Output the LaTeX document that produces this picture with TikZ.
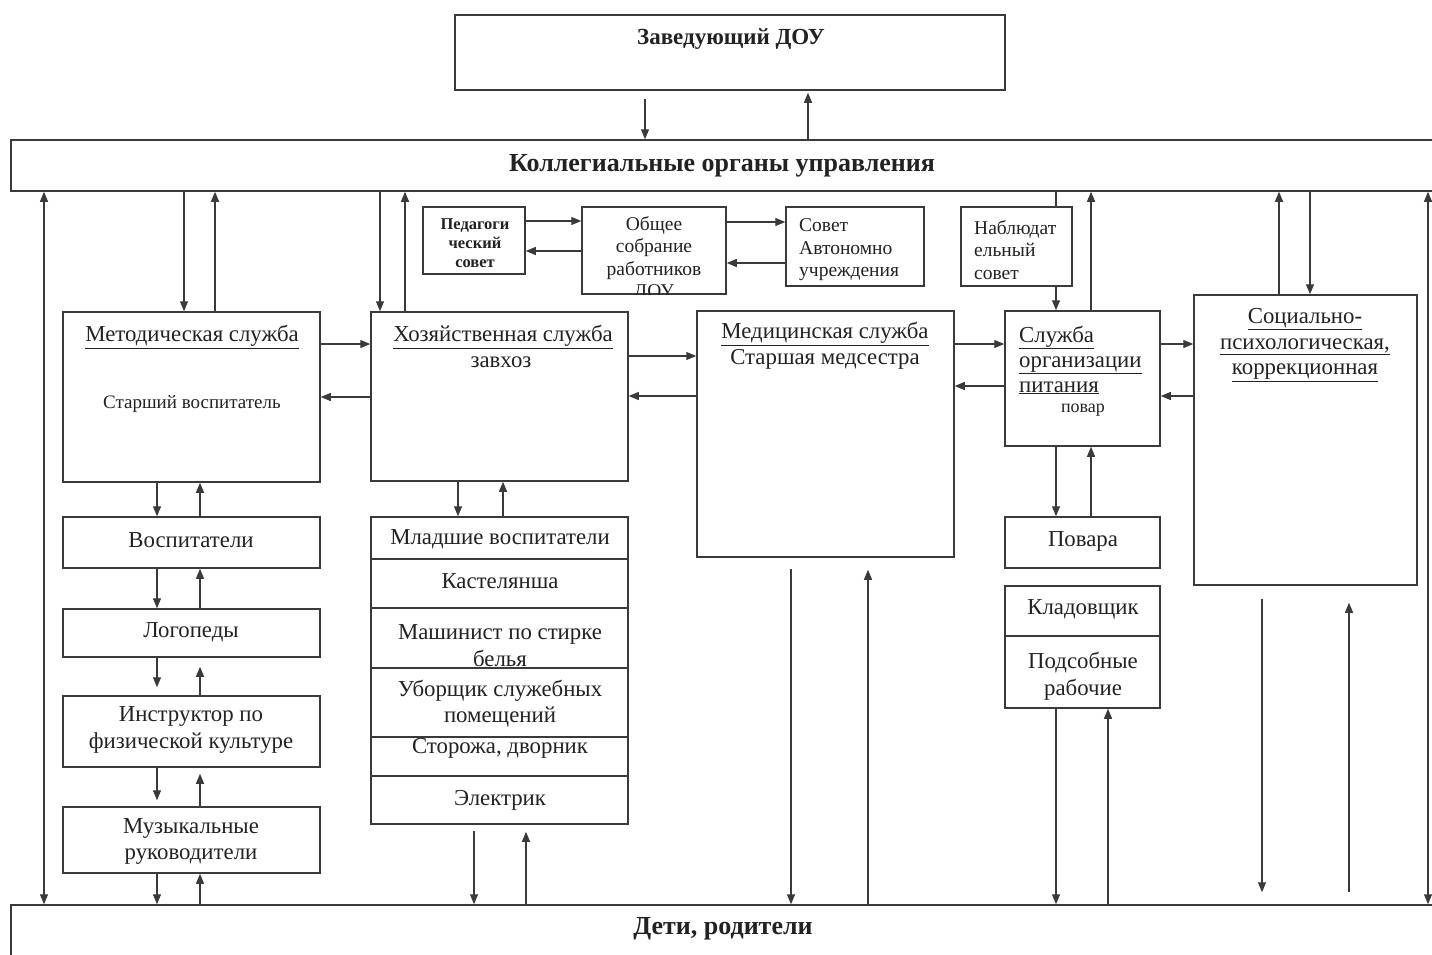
\documentclass[tikz,border=0pt]{standalone}
\usepackage{fontspec}
\setmainfont{Liberation Serif}
\usetikzlibrary{arrows.meta,fit}
\definecolor{ln}{HTML}{3A3A3A}
\definecolor{tx}{HTML}{222222}
\begin{document}
\begin{tikzpicture}[x=1pt,y=-1pt,
  bx/.style={draw=ln,line width=1.5pt,inner sep=0pt},
  ar/.style={draw=ln,line width=1.2pt,-{Triangle[length=10pt,width=8pt]}},
  artwo/.style={draw=ln,line width=1.2pt,{Triangle[length=10pt,width=8pt]}-{Triangle[length=10pt,width=8pt]}},
  pl/.style={draw=ln,line width=1.2pt},
  txt/.style={text=tx,inner sep=0pt,align=center,font=\fontsize{22.8}{26}\selectfont},
  txts/.style={text=tx,inner sep=0pt,align=center,font=\fontsize{19}{22}\selectfont},
  txtb/.style={text=tx,inner sep=0pt,align=center,font=\bfseries\fontsize{26}{30}\selectfont},
  txtl/.style={text=tx,inner sep=0pt,align=left,font=\fontsize{19.5}{22.5}\selectfont},
  txtm/.style={text=tx,inner sep=0pt,align=center,font=\fontsize{19.5}{22.5}\selectfont},
]
\useasboundingbox (0,0) rectangle (1432,954);
\clip (0,0) rectangle (1432,954);
\fill[white] (0,0) rectangle (1432,954);

% ---------- boxes ----------
\node[bx,fit={(455,15) (1005,90)}] (zav) {};
\node[bx,fit={(11,140) (1445,191)}] (kol) {};
\node[bx,fit={(11,905) (1445,970)}] (det) {};

\node[bx,fit={(423,207) (525,274)}] (ped) {};
\node[bx,fit={(582,207) (726,294)}] (obs) {};
\node[bx,fit={(786,207) (924,286)}] (sov) {};
\node[bx,fit={(961,207) (1072,286)}] (nab) {};

\node[bx,fit={(63,312) (320,482)}] (met) {};
\node[bx,fit={(371,312) (628,481)}] (hoz) {};
\node[bx,fit={(697,311) (954,557)}] (med) {};
\node[bx,fit={(1005,311) (1160,446)}] (pit) {};
\node[bx,fit={(1194,295) (1417,585)}] (soc) {};

\node[bx,fit={(63,517) (320,568)}] (vos) {};
\node[bx,fit={(63,609) (320,657)}] (log) {};
\node[bx,fit={(63,696) (320,767)}] (ins) {};
\node[bx,fit={(63,807) (320,873)}] (muz) {};

\node[bx,fit={(371,517) (628,559)}] (mla) {};
\node[bx,fit={(371,559) (628,608)}] (kas) {};
\node[bx,fit={(371,608) (628,668)}] (mas) {};
\node[bx,fit={(371,668) (628,737)}] (ubo) {};
\node[bx,fit={(371,737) (628,776)}] (sto) {};
\node[bx,fit={(371,776) (628,824)}] (ele) {};

\node[bx,fit={(1005,517) (1160,568)}] (pov) {};
\node[bx,fit={(1005,586) (1160,636)}] (kla) {};
\node[bx,fit={(1005,636) (1160,708)}] (pod) {};

% ---------- texts ----------
\node[txtb,font=\bfseries\fontsize{23}{26}\selectfont] (zavT) at (731,39) {Заведующий ДОУ};
\node[txtb] (kolT) at (722,166) {Коллегиальные органы управления};
\node[txtb] (detT) at (723,929) {Дети, родители};

\begin{scope}
\clip (ped.south west) rectangle (ped.north east);
\node[txtb,font=\bfseries\fontsize{16.5}{19}\selectfont,anchor=north] (pedT) at (475,218) {Педагоги\\ческий\\совет};
\end{scope}
\begin{scope}
\clip (obs.south west) rectangle (obs.north east);
\node[txtm,anchor=north] (obsT) at (654,216) {Общее\\собрание\\работников\\ДОУ};
\end{scope}
\node[txtl,anchor=west] (sovT) at (799,250) {Совет\\Автономно\\учреждения};
\node[txtl,anchor=west] (nabT) at (974,250) {Наблюдат\\ельный\\совет};

\node[txt] (metT) at (192,337) {\underline{Методическая служба}};
\node[txts] (metS) at (192,404) {Старший воспитатель};
\node[txt] (hozT) at (503,337) {\underline{Хозяйственная служба}};
\node[txt] (hozS) at (501,362) {завхоз};
\node[txt] (medT) at (825,334) {\underline{Медицинская служба}};
\node[txt] (medS) at (825,359) {Старшая медсестра};
\node[txt,align=left,anchor=west,font=\fontsize{22.8}{25}\selectfont] (pitT) at (1019,360) {\underline{Служба}\\\underline{организации}\\\underline{питания}};
\node[txts,font=\fontsize{18}{22}\selectfont] (pitS) at (1083,410) {повар};
\node[txt,font=\fontsize{22.8}{25.5}\selectfont] (socT) at (1305,345) {\underline{Социально-}\\\underline{психологическая,}\\\underline{коррекционная}};

\node[txt] (vosT) at (191,540) {Воспитатели};
\node[txt] (logT) at (191,632) {Логопеды};
\node[txt,font=\fontsize{22.8}{27}\selectfont] (insT) at (191,730) {Инструктор по\\физической культуре};
\node[txt] (muzT) at (191,841) {Музыкальные\\руководители};

\node[txt] (mlaT) at (500,539) {Младшие воспитатели};
\node[txt] (kasT) at (500,581) {Кастелянша};
\node[txt,font=\fontsize{22.8}{27}\selectfont] (masT) at (500,646) {Машинист по стирке\\белья};
\node[txt] (uboT) at (500,704) {Уборщик служебных\\помещений};
\node[txt] (stoT) at (500,748) {Сторожа, дворник};
\node[txt] (eleT) at (500,800) {Электрик};

\node[txt] (povT) at (1083,541) {Повара};
\node[txt] (klaT) at (1083,609) {Кладовщик};
\node[txt,font=\fontsize{22.8}{27}\selectfont] (podT) at (1083,676) {Подсобные\\рабочие};

% ---------- x / y guides ----------
\foreach \v in {44,157,184,200,215,380,405,458,474,503,526,645,791,808,868,1056,1091,1108,1262,1279,1310,1349,1428}
  \coordinate (c\v) at (\v,0);
\foreach \h in {221,222,251,263,344,356,386,396,397}
  \coordinate (h\h) at (0,\h);

% ---------- connectors ----------
\draw[ar,shorten <=8pt] (zav.south -| c645) -- (kol.north -| c645);
\draw[ar,shorten >=2pt] (kol.north -| c808) -- (zav.south -| c808);

\draw[artwo] (kol.south -| c44) -- (det.north -| c44);
\draw[artwo] (kol.south -| c1428) -- (det.north -| c1428);

\draw[ar] (kol.south -| c184) -- (met.north -| c184);
\draw[ar] (met.north -| c215) -- (kol.south -| c215);
\draw[ar] (kol.south -| c380) -- (hoz.north -| c380);
\draw[ar] (hoz.north -| c405) -- (kol.south -| c405);

\draw[ar] (ped.east |- h221) -- (obs.west |- h221);
\draw[ar] (obs.west |- h251) -- (ped.east |- h251);
\draw[ar] (obs.east |- h222) -- (sov.west |- h222);
\draw[ar] (sov.west |- h263) -- (obs.east |- h263);

\draw[pl] (kol.south -| c1056) -- (nab.north -| c1056);
\draw[ar] (nab.south -| c1056) -- (pit.north -| c1056);
\draw[ar] (pit.north -| c1091) -- (kol.south -| c1091);
\draw[ar] (soc.north -| c1279) -- (kol.south -| c1279);
\draw[ar] (kol.south -| c1310) -- (soc.north -| c1310);

\draw[ar] (met.east |- h344) -- (hoz.west |- h344);
\draw[ar] (hoz.west |- h397) -- (met.east |- h397);
\draw[ar] (hoz.east |- h356) -- (med.west |- h356);
\draw[ar] (med.west |- h396) -- (hoz.east |- h396);
\draw[ar] (med.east |- h344) -- (pit.west |- h344);
\draw[ar] (pit.west |- h386) -- (med.east |- h386);
\draw[ar] (pit.east |- h344) -- (soc.west |- h344);
\draw[ar] (soc.west |- h396) -- (pit.east |- h396);

\draw[ar] (met.south -| c157) -- (vos.north -| c157);
\draw[ar] (vos.north -| c200) -- (met.south -| c200);
\draw[ar] (vos.south -| c157) -- (log.north -| c157);
\draw[ar] (log.north -| c200) -- (vos.south -| c200);
\draw[ar,shorten >=8pt] (log.south -| c157) -- (ins.north -| c157);
\draw[ar,shorten >=9pt] (ins.north -| c200) -- (log.south -| c200);
\draw[ar,shorten >=6pt] (ins.south -| c157) -- (muz.north -| c157);
\draw[ar,shorten >=6pt] (muz.north -| c200) -- (ins.south -| c200);
\draw[ar] (muz.south -| c157) -- (det.north -| c157);
\draw[ar] (det.north -| c200) -- (muz.south -| c200);

\draw[ar] (hoz.south -| c458) -- (mla.north -| c458);
\draw[ar] (mla.north -| c503) -- (hoz.south -| c503);
\draw[ar,shorten <=6pt] (ele.south -| c474) -- (det.north -| c474);
\draw[ar,shorten >=7pt] (det.north -| c526) -- (ele.south -| c526);

\draw[ar,shorten <=11pt] (med.south -| c791) -- (det.north -| c791);
\draw[ar,shorten >=12pt] (det.north -| c868) -- (med.south -| c868);

\draw[ar] (pit.south -| c1056) -- (pov.north -| c1056);
\draw[ar] (pov.north -| c1091) -- (pit.south -| c1091);
\draw[ar] (pod.south -| c1056) -- (det.north -| c1056);
\draw[ar] (det.north -| c1108) -- (pod.south -| c1108);

\draw[ar,shorten <=13pt,shorten >=12pt] (soc.south -| c1262) -- (det.north -| c1262);
\draw[ar,shorten <=12pt,shorten >=17pt] (det.north -| c1349) -- (soc.south -| c1349);
\end{tikzpicture}
\end{document}
